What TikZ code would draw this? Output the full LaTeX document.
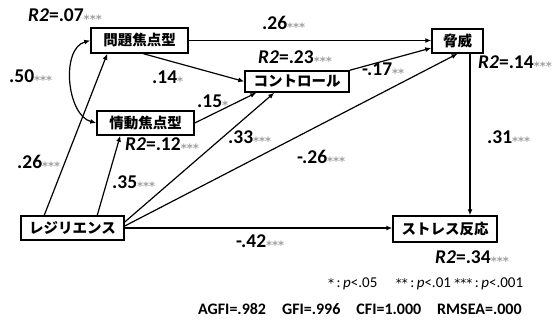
\documentclass[tikz,border=0pt]{standalone}
\usepackage{fontspec}
\setmainfont{Carlito}
\newfontfamily\jpfont{Noto Sans CJK JP}
\newfontfamily\starfont{DejaVu Sans}
\usepackage{tikz}
\usetikzlibrary{arrows.meta,positioning,calc}
\usepackage{xcolor}

\newcommand{\sig}[1]{\textcolor{gray!75}{\raisebox{-2pt}{\starfont\fontsize{11.5}{12}\selectfont #1}}}
\newcommand{\rsq}[2]{\textit{R2}=.#1\sig{#2}}
\newcommand{\lst}[1]{{\starfont\fontsize{12}{12}\selectfont #1}}

\begin{document}
\begin{tikzpicture}[
    x=1pt, y=-1pt,
    box/.style={
        rectangle,
        draw=black,
        fill=white,
        line width=1.5pt,
        align=center,
        inner sep=0pt,
        font=\jpfont\fontsize{14.5}{16}\selectfont\bfseries
    },
    coef/.style={
        anchor=west,
        inner sep=0pt,
        font=\fontsize{19.5}{20}\selectfont\bfseries
    },
    arrow/.style={-{Latex[length=6pt,width=5pt]}, line width=1.2pt}
]
\useasboundingbox (0,0) rectangle (553,326);

\node[box, minimum width=97pt, minimum height=25pt] (mon) at (139.5,40.5) {問題焦点型};
\node[box, minimum width=97pt, minimum height=24pt] (emo) at (145.5,123) {情動焦点型};
\node[box, minimum width=104pt, minimum height=21pt] (ctl) at (297,81.5) {コントロール};
\node[box, minimum width=51pt, minimum height=24pt] (thr) at (457.5,41) {脅威};
\node[box, minimum width=103pt, minimum height=24pt] (res) at (72.5,228) {レジリエンス};
\node[box, minimum width=104pt, minimum height=26pt] (str) at (445,229) {ストレス反応};

% paths
\draw[arrow] (mon.east) -- (mon.east -| thr.west);
\draw[arrow] ([xshift=4pt]mon.south) -- (ctl.west);
\draw[arrow] (emo.east) -- ([xshift=12pt]ctl.south west);
\draw[arrow] (ctl.north east) -- ([yshift=-7pt]thr.west);
\draw[arrow] ([xshift=24pt]res.north west) -- ([xshift=17pt]mon.south west);
\draw[arrow] ([xshift=77pt]res.north west) -- ([xshift=24pt]emo.south west);
\draw[arrow] ([yshift=6pt]res.east) -- ([xshift=30pt]ctl.south west);
\draw[arrow] ([yshift=2pt]res.east) -- (thr.south);
\draw[arrow] (res.east) -- (res.east -| str.west);
\draw[arrow] ([xshift=12.5pt]thr.south) -- ([xshift=12.5pt]thr.south |- str.north);
\draw[{Latex[length=6pt,width=5pt]}-{Latex[length=6pt,width=5pt]}, line width=1.2pt]
    (mon.west) to[out=195, in=165, looseness=0.95] (emo.west);

% coefficients
\node[coef] (r2mon) at (28,16) {\rsq{07}{***}};
\node[coef] (c50) at (9,77) {.50\sig{***}};
\node[coef] (c14) at (152,78) {.14\sig{*}};
\node[coef] (c15) at (197,102) {.15\sig{*}};
\node[coef] (c26a) at (262,24) {.26\sig{***}};
\node[coef] (r2ctl) at (258,58) {\rsq{23}{***}};
\node[coef] (c17) at (362,70) {-.17\sig{**}};
\node[coef] (r2thr) at (478,63) {\rsq{14}{***}};
\node[coef] (c33) at (228,138) {.33\sig{***}};
\node[coef] (c26b) at (17,163) {.26\sig{***}};
\node[coef] (c35) at (112,183) {.35\sig{***}};
\node[coef] (r2emo) at (125,145) {\rsq{12}{***}};
\node[coef] (c26c) at (297,158) {-.26\sig{***}};
\node[coef] (c31) at (487,138) {.31\sig{***}};
\node[coef] (c42) at (236,242) {-.42\sig{***}};
\node[coef] (r2str) at (435,258) {\rsq{34}{***}};

\node[anchor=west, inner sep=0pt, font=\fontsize{15}{16}\selectfont] (legend) at (328,284)
    {\lst{*}\,:\,\textit{p}<.05\quad\ \lst{**}\,:\,\textit{p}<.01 \lst{***}\,:\,\textit{p}<.001};
\node[anchor=west, inner sep=0pt, font=\fontsize{16}{17}\selectfont\bfseries] (fit) at (198,309)
    {AGFI=.982\quad GFI=.996\quad CFI=1.000\quad RMSEA=.000};

\end{tikzpicture}
\end{document}
